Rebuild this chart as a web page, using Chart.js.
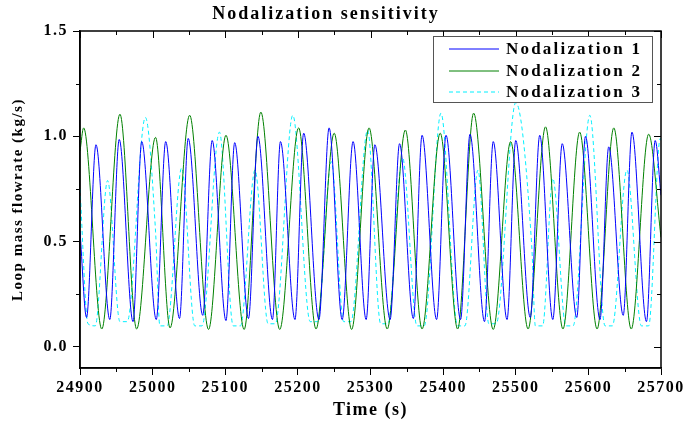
<!DOCTYPE html>
<html>
<head>
<meta charset="utf-8">
<title>Nodalization sensitivity</title>
<script src="https://cdn.jsdelivr.net/npm/chart.js@4.4.1/dist/chart.umd.min.js"></script>
<style>
  html, body { margin: 0; padding: 0; background: #fff; }
  #wrap { width: 684px; height: 425px; position: relative; }
</style>
</head>
<body>
<div id="wrap"><canvas id="chart"></canvas></div>
<script>
// ====== DATA ======
const chartTitle = "Nodalization sensitivity";
const seriesNames = ["Nodalization 1", "Nodalization 2", "Nodalization 3"];

// Nodalization 1 (blue) - peaks and troughs
const n1Time = [24900, 24909, 24922, 24941, 24954, 24973, 24985, 25005, 25018, 25037, 25049,
  25069, 25082, 25101, 25113, 25132, 25145, 25165, 25176, 25196, 25208, 25229, 25243, 25261,
  25276, 25294, 25306, 25327, 25340, 25359, 25371, 25391, 25404, 25424, 25437, 25457, 25469,
  25488, 25500, 25520, 25533, 25551, 25564, 25584, 25596, 25616, 25628, 25648, 25660, 25680,
  25692, 25700];
const n1Flow = [0.55, 0.14, 0.96, 0.13, 0.985, 0.12, 0.975, 0.13, 0.975, 0.135, 0.99,
  0.15, 0.98, 0.125, 0.97, 0.135, 1.00, 0.13, 0.975, 0.13, 1.015, 0.13, 1.04, 0.13,
  0.975, 0.13, 0.96, 0.13, 0.965, 0.135, 1.005, 0.13, 1.005, 0.13, 1.01, 0.12, 0.975,
  0.13, 0.98, 0.14, 1.005, 0.13, 0.965, 0.14, 1.00, 0.13, 0.95, 0.15, 1.02, 0.12,
  0.98, 0.72];

// Nodalization 2 (green)
const n2Time = [24900, 24905, 24930, 24955, 24978, 25004, 25024, 25051, 25077, 25101, 25126,
  25149, 25175, 25201, 25225, 25250, 25274, 25298, 25323, 25348, 25371, 25396, 25420, 25442,
  25469, 25493, 25517, 25541, 25565, 25588, 25612, 25635, 25659, 25683, 25700];
const n2Flow = [0.93, 1.04, 0.085, 1.105, 0.085, 0.995, 0.09, 1.10, 0.083, 1.005, 0.083,
  1.115, 0.083, 1.04, 0.085, 1.015, 0.083, 1.04, 0.085, 1.03, 0.085, 1.015, 0.085, 1.11,
  0.083, 0.975, 0.085, 1.045, 0.085, 1.02, 0.085, 1.04, 0.085, 1.01, 0.52];

// Nodalization 3 (cyan, dashed) - flat bottoms read as two points
const n3Time = [24900, 24911, 24921, 24938, 24955, 24965, 24990, 25004, 25010, 25020, 25040,
  25058, 25068, 25092, 25111, 25121, 25141, 25159, 25169, 25193, 25217, 25227, 25246, 25263,
  25273, 25296, 25314, 25324, 25344, 25364, 25374, 25397, 25420, 25430, 25448, 25463, 25473,
  25500, 25522, 25527, 25537, 25551, 25569, 25579, 25602, 25623, 25633, 25653, 25673, 25683,
  25699, 25700];
const n3Flow = [0.75, 0.11, 0.10, 0.79, 0.12, 0.12, 1.09, 0.55, 0.10, 0.10, 0.85,
  0.10, 0.10, 1.02, 0.10, 0.10, 0.84, 0.11, 0.11, 1.10, 0.12, 0.12, 0.88, 0.12,
  0.12, 1.03, 0.11, 0.11, 0.90, 0.10, 0.10, 1.11, 0.10, 0.10, 0.84, 0.11, 0.11,
  1.16, 0.48, 0.10, 0.10, 0.80, 0.10, 0.10, 1.10, 0.10, 0.10, 0.84, 0.10, 0.10,
  0.99, 0.98];

// tick labels
const xTicks = [24900, 25000, 25100, 25200, 25300, 25400, 25500, 25600, 25700];
const yTicks = [0.0, 0.5, 1.0, 1.5];
const xMinor = [24950, 25050, 25150, 25250, 25350, 25450, 25550, 25650];
const yMinor = [0.25, 0.75, 1.25];

const lineColors = ["#0000ff", "#008000", "#00f0ff"];
const FONT = "'Liberation Serif', 'Times New Roman', serif";

function toPoints(xs, ys) {
  return xs.map((t, i) => ({ x: t, y: ys[i] }));
}

// ====== SPACED TEXT (the reference uses wide letter spacing) ======
const spacing = {
  id: "spacing",
  beforeDraw(chart) {
    chart.ctx.letterSpacing = "1.5px";
  }
};

// ====== TITLE, FRAME + MINOR TICKS ======
const frameTicks = {
  id: "frameTicks",
  afterDatasetsDraw(chart) {
    const { ctx, chartArea: a, scales: { x, y } } = chart;
    ctx.save();
    ctx.strokeStyle = "#000";
    ctx.lineWidth = 1.5;
    ctx.strokeRect(a.left, a.top, a.right - a.left, a.bottom - a.top);
    ctx.lineWidth = 1;
    ctx.beginPath();
    xTicks.forEach(v => {
      const px = Math.round(x.getPixelForValue(v)) + 0.5;
      ctx.moveTo(px, a.top); ctx.lineTo(px, a.top + 7);
    });
    xMinor.forEach(v => {
      const px = Math.round(x.getPixelForValue(v)) + 0.5;
      ctx.moveTo(px, a.top); ctx.lineTo(px, a.top + 4);
      ctx.moveTo(px, a.bottom); ctx.lineTo(px, a.bottom + 4);
    });
    yTicks.forEach(v => {
      const py = Math.round(y.getPixelForValue(v)) + 0.5;
      ctx.moveTo(a.right, py); ctx.lineTo(a.right - 7, py);
    });
    yMinor.forEach(v => {
      const py = Math.round(y.getPixelForValue(v)) + 0.5;
      ctx.moveTo(a.right, py); ctx.lineTo(a.right - 4, py);
      ctx.moveTo(a.left, py); ctx.lineTo(a.left - 4, py);
    });
    ctx.stroke();

    // title
    ctx.fillStyle = "#000";
    ctx.font = "bold 18px " + FONT;
    ctx.letterSpacing = "2px";
    ctx.textAlign = "center";
    ctx.textBaseline = "middle";
    ctx.fillText(chartTitle, 326, 14);
    ctx.restore();
  }
};

// ====== LEGEND BOX INSIDE PLOT ======
const boxLegend = {
  id: "boxLegend",
  afterDraw(chart) {
    const ctx = chart.ctx;
    const bx = 433, by = 36, bw = 219, bh = 66;
    ctx.save();
    ctx.fillStyle = "#fff";
    ctx.fillRect(bx, by, bw, bh);
    ctx.strokeStyle = "#555";
    ctx.lineWidth = 1;
    ctx.strokeRect(bx + 0.5, by + 0.5, bw, bh);
    const rows = [49, 71, 92];
    chart.data.datasets.forEach((ds, i) => {
      ctx.beginPath();
      ctx.strokeStyle = ds.borderColor;
      ctx.lineWidth = 1;
      ctx.setLineDash(ds.borderDash || []);
      ctx.moveTo(449, rows[i]);
      ctx.lineTo(499, rows[i]);
      ctx.stroke();
      ctx.setLineDash([]);
      ctx.fillStyle = "#000";
      ctx.font = "bold 17px " + FONT;
      ctx.letterSpacing = "2.2px";
      ctx.textBaseline = "middle";
      ctx.textAlign = "left";
      ctx.fillText(ds.label, 506, rows[i] + 1);
    });
    ctx.restore();
  }
};

// ====== CHART ======
const ctx = document.getElementById("chart").getContext("2d");
new Chart(ctx, {
  type: "line",
  data: {
    datasets: [
      { label: seriesNames[0], data: toPoints(n1Time, n1Flow), borderColor: lineColors[0] },
      { label: seriesNames[1], data: toPoints(n2Time, n2Flow), borderColor: lineColors[1] },
      { label: seriesNames[2], data: toPoints(n3Time, n3Flow), borderColor: lineColors[2], borderDash: [4, 3] }
    ]
  },
  options: {
    responsive: true,
    maintainAspectRatio: false,
    animation: false,
    layout: { padding: { left: 0, right: 22, top: 31, bottom: 0 } },
    elements: {
      point: { radius: 0 },
      line: { borderWidth: 1, fill: false, cubicInterpolationMode: "monotone" }
    },
    plugins: {
      legend: { display: false },
      tooltip: { enabled: false },
      title: { display: false }
    },
    scales: {
      x: {
        type: "linear",
        min: 24900,
        max: 25700,
        afterBuildTicks: s => { s.ticks = xTicks.map(v => ({ value: v })); },
        afterFit: s => { s.height = 57; },
        ticks: {
          color: "#000",
          font: { family: FONT, size: 16, weight: "bold" },
          padding: 3,
          maxRotation: 0,
          autoSkip: false,
          callback: v => String(v)
        },
        grid: { drawOnChartArea: false, tickLength: 7, color: "#000", lineWidth: 1 },
        border: { color: "#000", width: 1.5 },
        title: {
          display: true,
          text: "Time (s)",
          color: "#000",
          font: { family: FONT, size: 18, weight: "bold" },
          padding: { top: 0, bottom: 4 }
        }
      },
      y: {
        min: -0.1,
        max: 1.5,
        afterBuildTicks: s => { s.ticks = yTicks.map(v => ({ value: v })); },
        afterFit: s => { s.width = 80; },
        ticks: {
          color: "#000",
          font: { family: FONT, size: 16, weight: "bold" },
          padding: 5,
          callback: v => Number(v).toFixed(1)
        },
        grid: { drawOnChartArea: false, tickLength: 7, color: "#000", lineWidth: 1 },
        border: { color: "#000", width: 1.5 },
        title: {
          display: true,
          text: "Loop mass flowrate (kg/s)",
          color: "#000",
          font: { family: FONT, size: 15, weight: "bold" },
          padding: { top: 9, bottom: 0 }
        }
      }
    }
  },
  plugins: [spacing, frameTicks, boxLegend]
});
</script>
</body>
</html>
